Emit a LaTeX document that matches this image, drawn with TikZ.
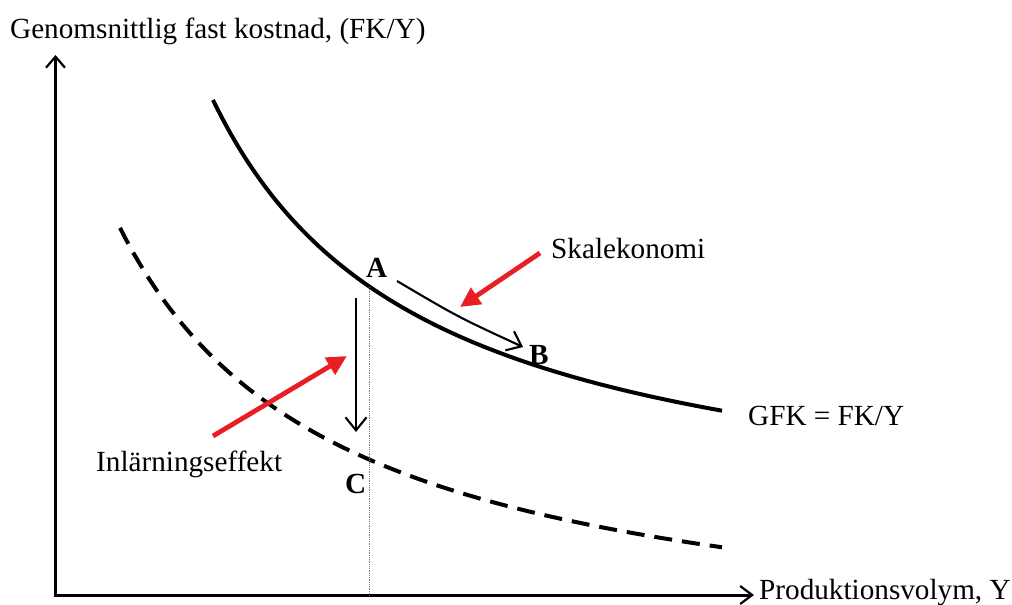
\documentclass[tikz,border=0pt]{standalone}
\usepackage{fontspec}
\setmainfont{Liberation Serif}
\usetikzlibrary{arrows.meta}
\definecolor{redarrow}{RGB}{232,30,37}
\begin{document}
\begin{tikzpicture}[x=1pt,y=-1pt,
  lbl/.style={font=\fontsize{29.2}{34}\selectfont, inner sep=0pt, anchor=base west},
  blbl/.style={lbl, font=\fontsize{29.2}{34}\selectfont\bfseries},
  axis/.style={line width=3pt},
  curve/.style={line width=4pt},
  dcurve/.style={line width=4pt, dash pattern=on 18pt off 10pt},
  guide/.style={line width=0.8pt, gray, densely dotted},
  blackarrow/.style={line width=2.1pt, -{Straight Barb[length=13pt,width=21pt,line width=2.1pt]}},
  redarr/.style={line width=4.8pt, redarrow, -{Triangle[length=20pt,width=19pt]}}
]
\useasboundingbox (0,0) rectangle (1012,605);
% axes
\coordinate (O) at (55.5,595);
\coordinate (ytop) at (55.5,55);
\coordinate (xend) at (754,595);
\draw[axis, {Straight Barb[length=11pt,width=19pt,line width=2.2pt]}-{Straight Barb[length=12pt,width=18pt,line width=2.2pt]}] (ytop) -- (O) -- (xend);
% curves
\draw[curve] plot[domain=213:722, samples=120] (\x, {540.7 - 938.75*(100/\x)});
\draw[dcurve] plot[domain=120:722, samples=120] (\x, {664 - 959.5*(100/(\x+100))});
\coordinate (Apt) at (369.5,287);
\draw[guide] (Apt) -- (Apt |- O);
% black arrows
\coordinate (ab1) at (397,281);
\coordinate (ab2) at (523,347);
\draw[blackarrow] (ab1) .. controls (458,317) .. (ab2);
\coordinate (d1) at (356,298);
\coordinate (d2) at (356,432);
\draw[blackarrow] (d1) -- (d2);
% red arrows
\coordinate (s1) at (540,253);
\coordinate (s2) at (460,307);
\draw[redarr] (s1) -- (s2);
\coordinate (i1) at (213,436);
\coordinate (i2) at (347,356);
\draw[redarr] (i1) -- (i2);
% labels
\node[lbl] (ylab) at (10,38) {Genomsnittlig fast kostnad, (FK/Y)};
\node[lbl] (xlab) at (759,599) {Produktionsvolym, Y};
\node[lbl] (skal) at (551,258) {Skalekonomi};
\node[lbl] (gfk) at (748,425) {GFK = FK/Y};
\node[lbl] (inl) at (96,471) {Inlärningseffekt};
\node[blbl] (A) at (366,277) {A};
\node[blbl] (B) at (529,364) {B};
\node[blbl] (C) at (345,493) {C};
\end{tikzpicture}
\end{document}
